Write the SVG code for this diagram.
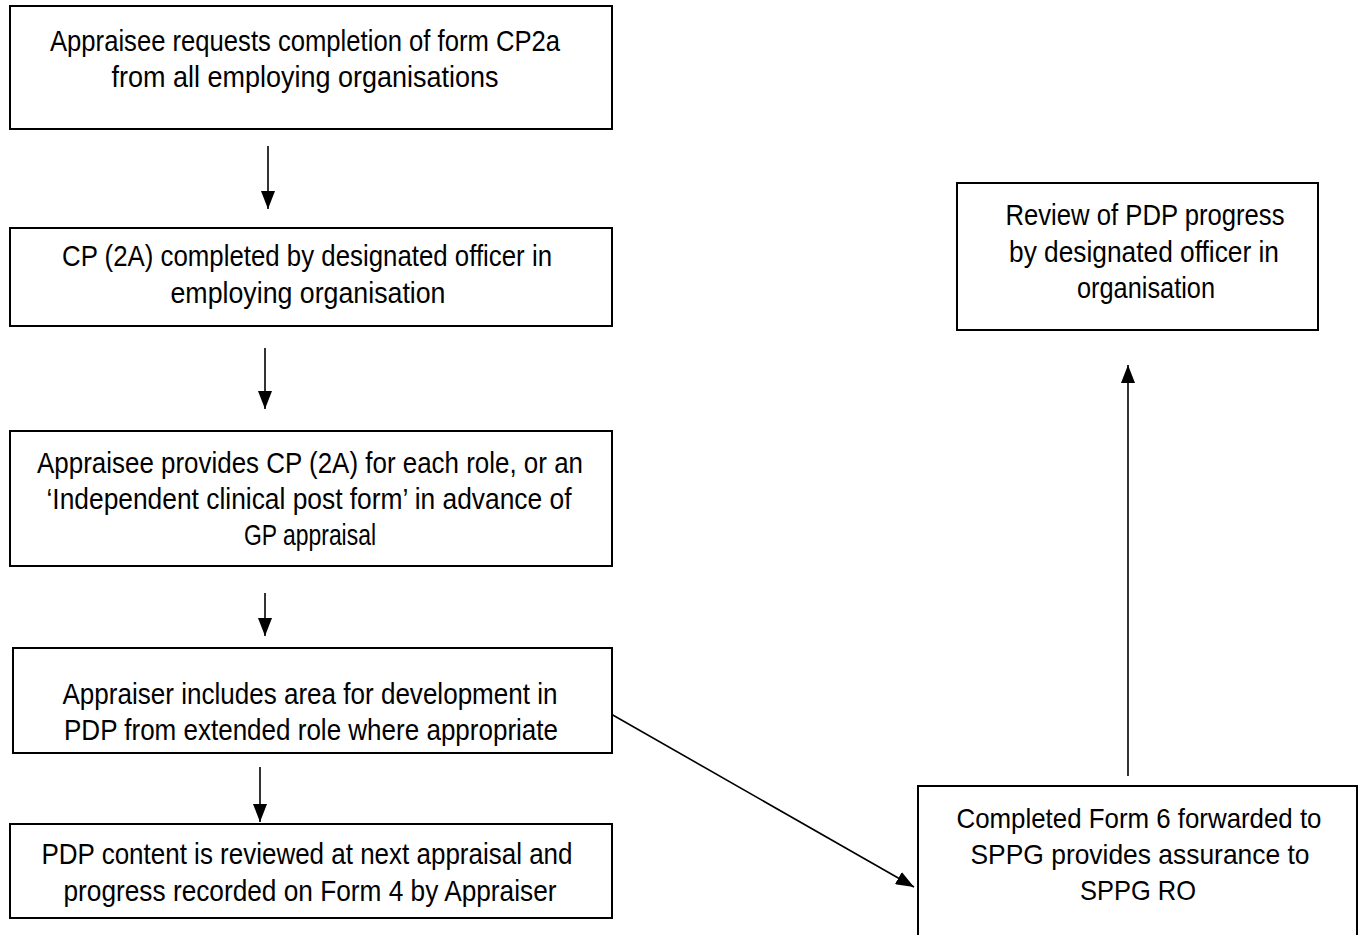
<svg xmlns="http://www.w3.org/2000/svg" width="1363" height="935" viewBox="0 0 1363 935">
  <style>
    .box { fill: #fff; stroke: #000; stroke-width: 2; }
    .lbl { font-family: "Liberation Sans", Arial, sans-serif; font-size: 30px; fill: #000; text-anchor: middle; }
    .lbl.sm { font-size: 28px; }
    .con { stroke: #000; stroke-width: 1.6; fill: none; marker-end: url(#arrow); }
  </style>
  <defs>
    <marker id="arrow" viewBox="0 0 18 14" refX="18" refY="7" markerWidth="18" markerHeight="14" markerUnits="userSpaceOnUse" orient="auto">
      <path d="M0,0 L18,7 L0,14 z" fill="#000"/>
    </marker>
  </defs>
  <rect width="1363" height="935" fill="#fff"/>

  <!-- flow arrows -->
  <g id="connectors">
    <line class="con" x1="268" y1="146" x2="268" y2="209"/>
    <line class="con" x1="265" y1="348" x2="265" y2="409"/>
    <line class="con" x1="265" y1="593" x2="265" y2="636"/>
    <line class="con" x1="260" y1="767" x2="260" y2="822"/>
    <line class="con" x1="1128" y1="776" x2="1128" y2="365"/>
    <line class="con" x1="611" y1="714" x2="914" y2="887"/>
  </g>

  <g id="n1">
    <rect class="box" x="10" y="6" width="602" height="123"/>
    <text class="lbl" x="305" y="51" textLength="510" lengthAdjust="spacingAndGlyphs">Appraisee requests completion of form CP2a</text>
    <text class="lbl" x="305" y="87" textLength="387" lengthAdjust="spacingAndGlyphs">from all employing organisations</text>
  </g>
  <g id="n2">
    <rect class="box" x="10" y="228" width="602" height="98"/>
    <text class="lbl" x="307" y="266" textLength="490" lengthAdjust="spacingAndGlyphs">CP (2A) completed by designated officer in</text>
    <text class="lbl" x="308" y="303" textLength="275" lengthAdjust="spacingAndGlyphs">employing organisation</text>
  </g>
  <g id="n3">
    <rect class="box" x="10" y="431" width="602" height="135"/>
    <text class="lbl" x="310" y="473" textLength="546" lengthAdjust="spacingAndGlyphs">Appraisee provides CP (2A) for each role, or an</text>
    <text class="lbl" x="309" y="509" textLength="525" lengthAdjust="spacingAndGlyphs">‘Independent clinical post form’ in advance of</text>
    <text class="lbl" x="310" y="545" textLength="132" lengthAdjust="spacingAndGlyphs">GP appraisal</text>
  </g>
  <g id="n4">
    <rect class="box" x="13" y="648" width="599" height="105"/>
    <text class="lbl" x="310" y="704" textLength="495" lengthAdjust="spacingAndGlyphs">Appraiser includes area for development in</text>
    <text class="lbl" x="311" y="740" textLength="494" lengthAdjust="spacingAndGlyphs">PDP from extended role where appropriate</text>
  </g>
  <g id="n5">
    <rect class="box" x="10" y="824" width="602" height="94"/>
    <text class="lbl" x="307" y="864" textLength="531" lengthAdjust="spacingAndGlyphs">PDP content is reviewed at next appraisal and</text>
    <text class="lbl" x="310" y="901" textLength="493" lengthAdjust="spacingAndGlyphs">progress recorded on Form 4 by Appraiser</text>
  </g>
  <g id="n6">
    <rect class="box" x="957" y="183" width="361" height="147"/>
    <text class="lbl" x="1145" y="225" textLength="279" lengthAdjust="spacingAndGlyphs">Review of PDP progress</text>
    <text class="lbl" x="1144" y="262" textLength="270" lengthAdjust="spacingAndGlyphs">by designated officer in</text>
    <text class="lbl" x="1146" y="298" textLength="138" lengthAdjust="spacingAndGlyphs">organisation</text>
  </g>
  <!-- this box runs off the bottom of the page, so its bottom edge is not drawn -->
  <g id="n7">
    <rect x="918" y="786" width="439" height="149" fill="#fff"/>
    <path d="M918,935 V786 H1357 V935" fill="none" stroke="#000" stroke-width="2"/>
    <text class="lbl sm" x="1139" y="828" textLength="365" lengthAdjust="spacingAndGlyphs">Completed Form 6 forwarded to</text>
    <text class="lbl sm" x="1140" y="864" textLength="339" lengthAdjust="spacingAndGlyphs">SPPG provides assurance to</text>
    <text class="lbl sm" x="1138" y="900" textLength="116" lengthAdjust="spacingAndGlyphs">SPPG RO</text>
  </g>
</svg>
